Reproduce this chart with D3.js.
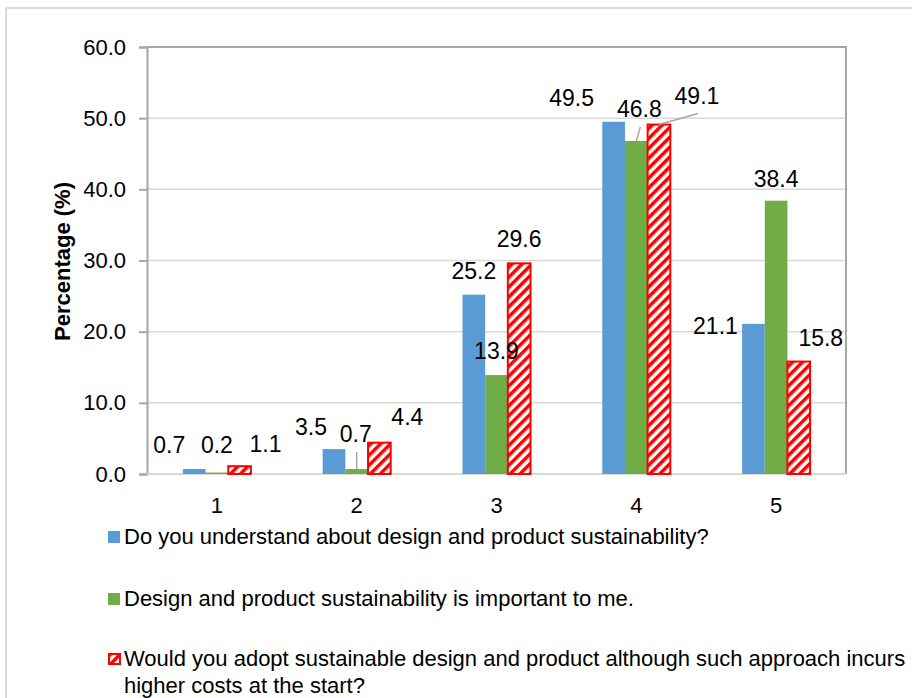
<!DOCTYPE html>
<html>
<head>
<meta charset="utf-8">
<script src="https://cdn.jsdelivr.net/npm/d3@7"></script>
<style>
  body { margin: 0; background: #fff; }
  svg text { font-family: "Liberation Sans", Arial, sans-serif; fill: #000; }
</style>
</head>
<body>
<svg id="chart" width="912" height="698"></svg>
<script>
// --- data ---
var categories = ["1", "2", "3", "4", "5"];
var understand = [0.7, 3.5, 25.2, 49.5, 21.1];
var important = [0.2, 0.7, 13.9, 46.8, 38.4];
var adopt = [1.1, 4.4, 29.6, 49.1, 15.8];
var seriesKeys = ["understand", "important", "adopt"];
var seriesNames = [
    "Do you understand about design and product sustainability?",
    "Design and product sustainability is important to me.",
    ["Would you adopt sustainable design and product although such approach incurs", "higher costs at the start?"]
];
var yTicks = [0, 10, 20, 30, 40, 50, 60];

var values = {understand: understand, important: important, adopt: adopt};

// label placement tweaks (px from the default spot above the bar), like the hand-moved excel labels
var labelNudge = {
    understand: [[-25, 0], [-23, 2], [0, 0], [-42, 0], [-38, 26]],
    important:  [[0, -4], [-1, -11], [0, 0], [3, -8], [0, 2]],
    adopt:      [[26, 2], [28, -2], [0, 0], [38, -5], [22, 0]]
};
var leaders = {important: [1, 3], adopt: [3]};

var svg = d3.select("#chart");

var margin = {left: 147, right: 846, top: 47, bottom: 474};

var x0 = d3.scaleBand().domain(categories).range([margin.left, margin.right]);
var x1 = d3.scaleBand().domain(seriesKeys).range([-34, 34]);
var y = d3.scaleLinear().domain([0, 60]).range([margin.bottom, margin.top]);

// hatch for the third series
var defs = svg.append("defs");
var pat = defs.append("pattern")
    .attr("id", "hatch")
    .attr("patternUnits", "userSpaceOnUse")
    .attr("width", 7).attr("height", 7)
    .attr("patternTransform", "rotate(45)");
pat.append("rect").attr("width", 7).attr("height", 7).attr("fill", "#fff");
pat.append("rect").attr("width", 3.5).attr("height", 7).attr("fill", "#ff0000");

var fills = {understand: "#5b9bd5", important: "#70ad47", adopt: "url(#hatch)"};

// outer frame
svg.append("rect")
    .attr("x", 6).attr("y", 8)
    .attr("width", 940).attr("height", 720)
    .attr("fill", "none").attr("stroke", "#d9d9d9").attr("stroke-width", 2);

// gridlines
svg.append("g")
    .selectAll("line")
    .data(yTicks)
    .join("line")
    .attr("x1", margin.left).attr("x2", margin.right)
    .attr("y1", d => y(d)).attr("y2", d => y(d))
    .attr("stroke", "#d9d9d9").attr("stroke-width", 1.5);

// plot border (top + right)
svg.append("path")
    .attr("d", "M" + margin.left + "," + y(60) + "H" + margin.right + "V" + y(0))
    .attr("fill", "none").attr("stroke", "#a6a6a6").attr("stroke-width", 2);

// y axis
var yAxis = svg.append("g")
    .attr("transform", "translate(" + margin.left + ",0)")
    .call(d3.axisLeft(y).tickValues(yTicks).tickSize(8).tickPadding(13).tickFormat(d3.format(".1f")));
yAxis.select(".domain").attr("stroke", "#a6a6a6").attr("stroke-width", 2);
yAxis.selectAll(".tick line").attr("stroke", "#a6a6a6").attr("stroke-width", 2);
yAxis.selectAll(".tick text").attr("font-size", 22).attr("fill", "#000")
    .style("font-family", "'Liberation Sans', Arial, sans-serif");

// x axis line + labels
svg.append("line")
    .attr("x1", margin.left).attr("x2", margin.right)
    .attr("y1", y(0)).attr("y2", y(0))
    .attr("stroke", "#d9d9d9").attr("stroke-width", 2);
svg.append("g")
    .selectAll("text")
    .data(categories)
    .join("text")
    .attr("x", d => x0(d) + x0.bandwidth() / 2)
    .attr("y", 513)
    .attr("text-anchor", "middle")
    .attr("font-size", 22)
    .text(d => d);

// y title
svg.append("text")
    .attr("transform", "translate(70," + (y(30) + 1) + ") rotate(-90)")
    .attr("text-anchor", "middle")
    .attr("font-size", 22)
    .attr("font-weight", "bold")
    .text("Percentage (%)");

// bars
var groups = svg.append("g")
    .selectAll("g")
    .data(categories)
    .join("g")
    .attr("transform", d => "translate(" + (x0(d) + x0.bandwidth() / 2) + ",0)");

groups.selectAll("rect")
    .data((c, i) => seriesKeys.map(k => ({key: k, v: values[k][i], i: i})))
    .join("rect")
    .attr("x", d => x1(d.key))
    .attr("width", x1.bandwidth())
    .attr("y", d => y(d.v))
    .attr("height", d => y(0) - y(d.v))
    .attr("fill", d => fills[d.key])
    .attr("stroke", d => d.key == "adopt" ? "#ff0000" : "none")
    .attr("stroke-width", 2);

// data labels
seriesKeys.forEach(k => {
    values[k].forEach((v, i) => {
        var bx = x0(categories[i]) + x0.bandwidth() / 2 + x1(k) + x1.bandwidth() / 2;
        var by = y(v);
        var lx = bx + labelNudge[k][i][0];
        var ly = by - 16 + labelNudge[k][i][1];
        if (leaders[k] && leaders[k].indexOf(i) >= 0) {
            svg.append("line")
                .attr("x1", lx + 1).attr("y1", ly + 10)
                .attr("x2", bx).attr("y2", by)
                .attr("stroke", "#a6a6a6").attr("stroke-width", 1.5);
        }
        svg.append("text")
            .attr("x", lx).attr("y", ly)
            .attr("text-anchor", "middle")
            .attr("font-size", 23)
            .text(v.toFixed(1));
    });
});

// legend
var legendY = [544, 606, 666];
var legend = svg.append("g");
seriesKeys.forEach((k, i) => {
    legend.append("rect")
        .attr("x", i == 2 ? 109 : 108).attr("y", legendY[i] - (i == 2 ? 12 : 13))
        .attr("width", i == 2 ? 11 : 12).attr("height", i == 2 ? 10 : 12)
        .attr("fill", fills[k])
        .attr("stroke", k == "adopt" ? "#ff0000" : "none")
        .attr("stroke-width", 2);
    var lines = [].concat(seriesNames[i]);
    var t = legend.append("text")
        .attr("x", 124).attr("y", legendY[i])
        .attr("font-size", 22);
    lines.forEach((s, j) => {
        t.append("tspan").attr("x", 124).attr("dy", j == 0 ? 0 : 27).text(s);
    });
});
</script>
</body>
</html>
